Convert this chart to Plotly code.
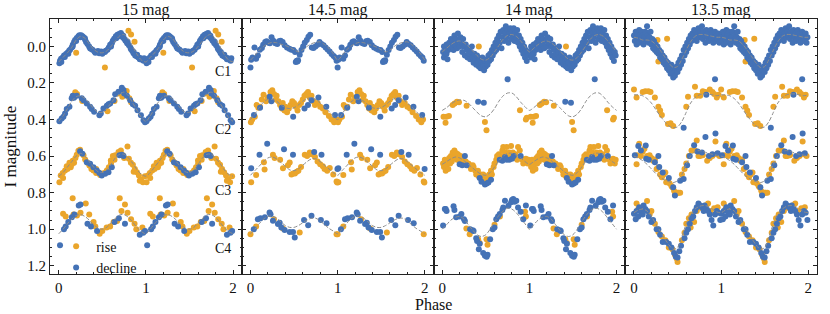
import plotly.graph_objects as go
from plotly.subplots import make_subplots

# ---------------- data ----------------
panel_titles = ["15 mag", "14.5 mag", "14 mag", "13.5 mag"]
curve_labels = ["C1", "C2", "C3", "C4"]
curve_label_mag = [0.135, 0.455, 0.787, 1.104]
curve_label_phase = 1.88
x_ticks = [0, 1, 2]
y_ticks = [0.0, 0.2, 0.4, 0.6, 0.8, 1.0, 1.2]
y_tick_text = ["0.0", "0.2", "0.4", "0.6", "0.8", "1.0", "1.2"]

model_phase = [0.0, 0.05, 0.1, 0.15, 0.2, 0.25, 0.3, 0.35, 0.4, 0.45, 0.5,
               0.55, 0.6, 0.65, 0.7, 0.75, 0.8, 0.85, 0.9, 0.95, 1.0]

# ---- 15 mag ----
m15_c1_rise = [(0.20, 0.034), (0.53, 0.116), (0.80, -0.086), (0.83, -0.065), (0.87, -0.025)]
m15_c1_decline = [(0.008, 0.092), (0.015, 0.079), (0.027, 0.068), (0.046, 0.061), (0.061, 0.050),
                  (0.084, 0.042), (0.100, 0.035), (0.119, 0.024), (0.130, 0.018), (0.149, 0.006),
                  (0.161, -0.009), (0.176, -0.024), (0.188, -0.035), (0.207, -0.046), (0.226, -0.055),
                  (0.238, -0.061), (0.257, -0.061), (0.272, -0.055), (0.284, -0.050), (0.303, -0.037),
                  (0.314, -0.024), (0.330, -0.013), (0.349, 0.000), (0.368, 0.013), (0.387, 0.018),
                  (0.410, 0.028), (0.437, 0.031), (0.464, 0.037), (0.487, 0.028), (0.513, 0.031),
                  (0.540, 0.024), (0.559, 0.018), (0.575, 0.006), (0.590, -0.009), (0.609, -0.018),
                  (0.621, -0.031), (0.636, -0.042), (0.655, -0.055), (0.674, -0.064), (0.693, -0.068),
                  (0.713, -0.073), (0.724, -0.064), (0.736, -0.050), (0.751, -0.042), (0.766, -0.031),
                  (0.785, -0.018), (0.805, -0.006), (0.824, 0.009), (0.843, 0.024), (0.858, 0.037),
                  (0.877, 0.050), (0.897, 0.055), (0.916, 0.061), (0.935, 0.064), (0.958, 0.073),
                  (0.973, 0.079), (0.03, 0.085), (0.07, 0.058), (0.11, 0.040), (0.16, 0.000),
                  (0.20, -0.030), (0.25, -0.050), (0.30, -0.045), (0.36, 0.010), (0.42, 0.035),
                  (0.45, 0.025), (0.50, 0.040), (0.53, 0.030), (0.60, 0.000), (0.66, -0.045),
                  (0.70, -0.055), (0.74, -0.058), (0.79, -0.025), (0.83, 0.015), (0.86, 0.030),
                  (0.90, 0.045), (0.93, 0.070), (0.98, 0.065)]
m15_c1_model = [0.085, 0.06, 0.035, 0.005, -0.035, -0.055, -0.045, -0.015, 0.015, 0.032, 0.035,
                0.025, 0.0, -0.03, -0.058, -0.065, -0.04, 0.0, 0.045, 0.075, 0.085]

m15_c2_rise = [(0.19, 0.251), (0.21, 0.260), (0.27, 0.299), (0.53, 0.339), (0.56, 0.354),
               (0.64, 0.299), (0.68, 0.257), (0.73, 0.275), (0.78, 0.244), (0.81, 0.284), (0.83, 0.306)]
m15_c2_decline = [(0.008, 0.409), (0.034, 0.394), (0.054, 0.385), (0.073, 0.367), (0.092, 0.343),
                  (0.123, 0.330), (0.149, 0.284), (0.161, 0.270), (0.176, 0.281), (0.207, 0.270),
                  (0.264, 0.284), (0.284, 0.294), (0.322, 0.312), (0.360, 0.330), (0.379, 0.343),
                  (0.406, 0.358), (0.467, 0.376), (0.483, 0.367), (0.513, 0.339), (0.552, 0.325),
                  (0.571, 0.317), (0.590, 0.312), (0.628, 0.294), (0.648, 0.262), (0.686, 0.248),
                  (0.724, 0.226), (0.743, 0.239), (0.751, 0.257), (0.782, 0.270), (0.820, 0.294),
                  (0.851, 0.317), (0.877, 0.325), (0.904, 0.349), (0.943, 0.376), (0.973, 0.404),
                  (0.99, 0.415)]
m15_c2_model = [0.41, 0.38, 0.34, 0.30, 0.275, 0.27, 0.285, 0.31, 0.34, 0.36, 0.36,
                0.34, 0.31, 0.28, 0.26, 0.25, 0.27, 0.31, 0.35, 0.39, 0.41]

m15_c3_rise = [(0.008, 0.743), (0.023, 0.706), (0.046, 0.692), (0.073, 0.679), (0.092, 0.655),
               (0.123, 0.637), (0.138, 0.661), (0.161, 0.626), (0.176, 0.637), (0.192, 0.611),
               (0.207, 0.593), (0.226, 0.571), (0.245, 0.565), (0.284, 0.596), (0.303, 0.618),
               (0.330, 0.637), (0.352, 0.651), (0.375, 0.670), (0.398, 0.679), (0.429, 0.692),
               (0.475, 0.703), (0.521, 0.692), (0.552, 0.679), (0.575, 0.661), (0.598, 0.624),
               (0.621, 0.600), (0.648, 0.596), (0.686, 0.578), (0.713, 0.569), (0.736, 0.596),
               (0.751, 0.611), (0.789, 0.547), (0.805, 0.615), (0.828, 0.637), (0.851, 0.648),
               (0.874, 0.670), (0.897, 0.688), (0.920, 0.706), (0.943, 0.728), (0.966, 0.743),
               (0.989, 0.710), (0.86, 0.685), (0.93, 0.735), (0.10, 0.670), (0.15, 0.645),
               (0.43, 0.670), (0.46, 0.690), (0.60, 0.640), (0.64, 0.620), (0.05, 0.720)]
m15_c3_decline = [(0.245, 0.574), (0.272, 0.587), (0.322, 0.633), (0.360, 0.642), (0.398, 0.661),
                  (0.437, 0.679), (0.467, 0.692), (0.494, 0.706), (0.533, 0.697), (0.571, 0.688),
                  (0.609, 0.661), (0.697, 0.596), (0.724, 0.593), (0.743, 0.600)]
m15_c3_model = [0.71, 0.69, 0.66, 0.63, 0.60, 0.585, 0.60, 0.63, 0.66, 0.685, 0.69,
                0.675, 0.645, 0.61, 0.59, 0.59, 0.61, 0.64, 0.675, 0.70, 0.71]

m15_c4_rise = [(0.05, 0.915), (0.08, 0.930), (0.16, 0.830), (0.17, 0.920), (0.21, 0.925),
               (0.25, 0.910), (0.31, 0.860), (0.35, 0.920), (0.40, 0.960), (0.42, 0.985),
               (0.47, 1.025), (0.50, 1.010), (0.55, 0.990), (0.59, 0.985), (0.63, 0.960),
               (0.67, 0.955), (0.70, 0.830), (0.72, 0.900), (0.76, 0.865), (0.79, 0.910),
               (0.83, 0.945), (0.87, 0.970), (0.89, 1.000), (0.96, 0.990)]
m15_c4_decline = [(0.015, 1.088), (0.06, 1.000), (0.08, 0.985), (0.11, 0.960), (0.15, 0.935),
                  (0.18, 0.920), (0.23, 0.870), (0.25, 0.865), (0.33, 0.970), (0.37, 0.985),
                  (0.44, 1.010), (0.64, 0.960), (0.69, 0.940), (0.76, 0.970), (0.93, 1.030),
                  (0.97, 1.020), (0.99, 1.010)]
m15_c4_model = [1.025, 1.0, 0.97, 0.945, 0.925, 0.92, 0.93, 0.95, 0.975, 0.993, 1.0,
                0.99, 0.965, 0.94, 0.922, 0.92, 0.935, 0.962, 0.992, 1.013, 1.025]

# ---- 14.5 mag ----
m145_c1_rise = []
m145_c1_decline = [(0.000, 0.116), (0.008, 0.073), (0.023, 0.061), (0.046, 0.006), (0.065, 0.068),
                   (0.085, 0.050), (0.108, 0.018), (0.131, 0.009), (0.146, -0.009), (0.169, -0.024),
                   (0.185, -0.028), (0.208, -0.020), (0.223, -0.017), (0.242, -0.050), (0.262, -0.031),
                   (0.285, -0.018), (0.308, -0.013), (0.327, -0.028), (0.346, -0.031), (0.369, -0.024),
                   (0.392, -0.006), (0.419, 0.006), (0.446, 0.013), (0.469, 0.018), (0.492, 0.020),
                   (0.512, 0.031), (0.531, 0.079), (0.546, 0.075), (0.565, 0.046), (0.585, 0.020),
                   (0.604, 0.000), (0.623, -0.020), (0.646, -0.035), (0.665, -0.053), (0.685, -0.064),
                   (0.704, 0.006), (0.723, 0.009), (0.746, 0.000), (0.769, -0.009), (0.792, -0.024),
                   (0.815, -0.013), (0.838, -0.006), (0.862, 0.006), (0.885, 0.017), (0.908, 0.028),
                   (0.931, 0.042), (0.954, 0.053), (0.973, 0.061), (0.988, 0.079), (0.52, 0.085),
                   (0.54, 0.083)]
m145_c1_model = [0.075, 0.05, 0.02, 0.0, -0.015, -0.022, -0.02, -0.012, -0.005, 0.005, 0.018,
                 0.03, 0.02, 0.0, -0.015, -0.022, -0.025, -0.01, 0.01, 0.04, 0.075]

m145_c2_rise = [(0.005, 0.415), (0.02, 0.400), (0.05, 0.385), (0.07, 0.320), (0.09, 0.335),
                (0.11, 0.330), (0.13, 0.290), (0.15, 0.265), (0.18, 0.300), (0.20, 0.280),
                (0.23, 0.250), (0.25, 0.240), (0.27, 0.260), (0.29, 0.290), (0.30, 0.270),
                (0.32, 0.300), (0.34, 0.320), (0.36, 0.340), (0.37, 0.310), (0.39, 0.350),
                (0.40, 0.330), (0.42, 0.360), (0.44, 0.340), (0.46, 0.320), (0.48, 0.300),
                (0.50, 0.310), (0.52, 0.330), (0.54, 0.350), (0.56, 0.320), (0.58, 0.310),
                (0.60, 0.290), (0.62, 0.270), (0.64, 0.260), (0.66, 0.250), (0.68, 0.280),
                (0.70, 0.270), (0.72, 0.300), (0.74, 0.320), (0.77, 0.310), (0.80, 0.330),
                (0.83, 0.340), (0.86, 0.360), (0.90, 0.380), (0.93, 0.400), (0.96, 0.415),
                (0.98, 0.400)]
m145_c2_decline = [(0.04, 0.375), (0.11, 0.335), (0.22, 0.275), (0.24, 0.300), (0.36, 0.335),
                   (0.49, 0.385), (0.62, 0.340), (0.66, 0.320), (0.70, 0.295), (0.78, 0.280),
                   (0.87, 0.330), (0.97, 0.375)]
m145_c2_model = [0.40, 0.37, 0.335, 0.305, 0.29, 0.29, 0.30, 0.32, 0.335, 0.34, 0.335,
                 0.32, 0.30, 0.285, 0.28, 0.29, 0.31, 0.33, 0.355, 0.38, 0.40]

m145_c3_rise = [(0.008, 0.743), (0.065, 0.703), (0.154, 0.633), (0.162, 0.673), (0.258, 0.593),
                (0.277, 0.611), (0.34, 0.620), (0.373, 0.666), (0.43, 0.650), (0.45, 0.635),
                (0.47, 0.700), (0.49, 0.695), (0.51, 0.695), (0.53, 0.685), (0.55, 0.680),
                (0.58, 0.660), (0.623, 0.593), (0.65, 0.600), (0.68, 0.580), (0.70, 0.590),
                (0.74, 0.605), (0.77, 0.630), (0.80, 0.645), (0.83, 0.655), (0.85, 0.670),
                (0.88, 0.680), (0.91, 0.665), (0.95, 0.700), (0.988, 0.739), (0.995, 0.745)]
m145_c3_decline = [(0.008, 0.666), (0.104, 0.593), (0.192, 0.532), (0.385, 0.563), (0.488, 0.593),
                   (0.731, 0.578), (0.815, 0.593), (0.998, 0.670)]
m145_c3_model = [0.705, 0.68, 0.655, 0.63, 0.61, 0.605, 0.615, 0.635, 0.655, 0.675, 0.68,
                 0.67, 0.65, 0.63, 0.615, 0.615, 0.63, 0.65, 0.67, 0.69, 0.705]

m145_c4_rise = [(0.0, 1.028), (0.065, 0.985), (0.269, 0.945), (0.373, 0.996), (0.565, 1.018),
                (0.988, 1.028)]
m145_c4_decline = [(0.038, 1.000), (0.085, 0.945), (0.115, 0.940), (0.165, 0.935), (0.219, 0.908),
                   (0.23, 0.918), (0.258, 0.954), (0.315, 0.972), (0.335, 0.965), (0.354, 0.991),
                   (0.392, 1.004), (0.450, 1.015), (0.488, 1.015), (0.508, 1.046), (0.615, 0.949),
                   (0.662, 0.978), (0.700, 0.927), (0.808, 0.949), (0.873, 0.967)]
m145_c4_model = [1.025, 1.0, 0.97, 0.945, 0.93, 0.928, 0.94, 0.96, 0.98, 0.99, 0.99,
                 0.98, 0.965, 0.95, 0.94, 0.94, 0.955, 0.975, 0.995, 1.01, 1.025]

# ---- 14 mag ----
m14_c1_rise = [(0.42, 0.0)]
m14_c1_decline = [(0.01, 0.03), (0.02, 0.0), (0.02, 0.06), (0.03, 0.05), (0.04, 0.02), (0.05, -0.01),
                  (0.05, 0.04), (0.06, 0.07), (0.07, 0.02), (0.08, -0.02), (0.09, 0.01), (0.10, -0.04),
                  (0.11, 0.0), (0.12, -0.03), (0.13, 0.02), (0.14, -0.06), (0.15, -0.01), (0.16, -0.04),
                  (0.17, 0.01), (0.18, -0.07), (0.19, -0.03), (0.20, 0.0), (0.21, -0.05), (0.22, -0.02),
                  (0.23, 0.03), (0.24, -0.04), (0.25, 0.0), (0.26, 0.05), (0.27, -0.01), (0.28, 0.02),
                  (0.29, 0.06), (0.30, 0.01), (0.31, 0.04), (0.32, 0.07), (0.33, 0.03), (0.34, 0.0),
                  (0.35, 0.06), (0.36, 0.09), (0.37, 0.04), (0.38, 0.07), (0.39, 0.10), (0.40, 0.05),
                  (0.41, 0.08), (0.42, 0.11), (0.43, 0.07), (0.44, 0.12), (0.45, 0.09), (0.46, 0.06),
                  (0.47, 0.10), (0.48, 0.13), (0.49, 0.08), (0.50, 0.11), (0.51, 0.07), (0.52, 0.10),
                  (0.53, 0.05), (0.54, 0.08), (0.55, 0.04), (0.56, 0.07), (0.57, 0.02), (0.58, 0.05),
                  (0.59, 0.0), (0.60, 0.03), (0.61, -0.02), (0.62, 0.02), (0.63, -0.04), (0.64, 0.0),
                  (0.65, -0.06), (0.66, -0.02), (0.67, -0.08), (0.68, 0.01), (0.69, -0.05), (0.70, -0.09),
                  (0.71, -0.03), (0.72, -0.07), (0.73, -0.11), (0.74, -0.05), (0.75, -0.09), (0.76, -0.02),
                  (0.77, -0.07), (0.78, -0.10), (0.79, -0.04), (0.80, -0.08), (0.81, -0.06), (0.82, -0.10),
                  (0.83, -0.03), (0.84, -0.07), (0.85, -0.05), (0.86, -0.09), (0.87, -0.02), (0.88, -0.06),
                  (0.89, 0.0), (0.90, -0.04), (0.91, 0.02), (0.92, -0.02), (0.93, 0.04), (0.94, 0.0),
                  (0.95, 0.06), (0.96, 0.02), (0.97, 0.08), (0.98, 0.03), (0.99, 0.05), (0.75, 0.18)]
m14_c1_model = [0.03, 0.01, -0.01, -0.025, -0.03, -0.02, 0.0, 0.025, 0.05, 0.07, 0.075,
                0.06, 0.03, -0.005, -0.04, -0.06, -0.065, -0.055, -0.03, 0.0, 0.03]

m14_c2_rise = [(0.015, 0.385), (0.038, 0.417), (0.05, 0.385), (0.077, 0.380), (0.12, 0.320),
               (0.142, 0.312), (0.169, 0.303), (0.192, 0.306), (0.28, 0.325), (0.49, 0.413),
               (0.508, 0.459), (0.892, 0.349), (0.96, 0.400), (0.97, 0.390)]
m14_c2_decline = [(0.412, 0.303), (0.477, 0.308)]
m14_c2_model = [0.35, 0.335, 0.315, 0.30, 0.293, 0.295, 0.31, 0.335, 0.36, 0.38, 0.385,
                0.37, 0.34, 0.30, 0.27, 0.255, 0.255, 0.275, 0.305, 0.33, 0.35]

m14_c3_rise = [(0.01, 0.64), (0.02, 0.66), (0.03, 0.62), (0.04, 0.68), (0.05, 0.65), (0.06, 0.63),
               (0.07, 0.67), (0.08, 0.61), (0.09, 0.64), (0.10, 0.60), (0.11, 0.63), (0.12, 0.58),
               (0.13, 0.61), (0.14, 0.57), (0.15, 0.60), (0.16, 0.585), (0.17, 0.62), (0.18, 0.59),
               (0.19, 0.61), (0.21, 0.60), (0.22, 0.63), (0.24, 0.62), (0.25, 0.64), (0.27, 0.63),
               (0.29, 0.65), (0.30, 0.64), (0.32, 0.65), (0.33, 0.67), (0.35, 0.65), (0.36, 0.66),
               (0.38, 0.68), (0.39, 0.70), (0.41, 0.68), (0.42, 0.71), (0.44, 0.70), (0.46, 0.72),
               (0.47, 0.70), (0.50, 0.73), (0.52, 0.71), (0.54, 0.70), (0.56, 0.68), (0.57, 0.70),
               (0.59, 0.66), (0.60, 0.64), (0.62, 0.62), (0.63, 0.60), (0.65, 0.59), (0.67, 0.60),
               (0.69, 0.57), (0.70, 0.55), (0.72, 0.58), (0.74, 0.55), (0.75, 0.60), (0.77, 0.58),
               (0.79, 0.545), (0.80, 0.60), (0.81, 0.58), (0.83, 0.61), (0.84, 0.59), (0.86, 0.62),
               (0.87, 0.55), (0.89, 0.57), (0.90, 0.61), (0.92, 0.62), (0.93, 0.64), (0.95, 0.63),
               (0.96, 0.615), (0.98, 0.64), (0.99, 0.62)]
m14_c3_decline = [(0.20, 0.645), (0.23, 0.650), (0.26, 0.600), (0.28, 0.650), (0.43, 0.720),
                  (0.45, 0.740), (0.49, 0.755), (0.51, 0.750), (0.53, 0.745), (0.56, 0.730),
                  (0.66, 0.620), (0.69, 0.625), (0.72, 0.605), (0.74, 0.620), (0.77, 0.620),
                  (0.80, 0.615), (0.82, 0.600), (0.90, 0.600)]
m14_c3_model = [0.645, 0.63, 0.615, 0.605, 0.61, 0.625, 0.645, 0.665, 0.685, 0.70, 0.705,
                0.69, 0.66, 0.625, 0.60, 0.585, 0.585, 0.595, 0.61, 0.63, 0.645]

m14_c4_rise = [(0.277, 0.996), (0.315, 1.028), (0.412, 1.055), (0.43, 1.075), (0.508, 1.055),
               (0.52, 1.085), (0.60, 0.975), (0.662, 0.930), (0.95, 0.905), (0.96, 0.930)]
m14_c4_decline = [(0.01, 0.980), (0.03, 0.890), (0.04, 0.890), (0.05, 0.900), (0.13, 0.875),
                  (0.14, 0.895), (0.16, 0.935), (0.20, 0.930), (0.22, 0.917), (0.25, 0.945),
                  (0.26, 0.955), (0.32, 1.000), (0.35, 1.005), (0.36, 1.010), (0.39, 1.050),
                  (0.40, 1.065), (0.42, 1.110), (0.43, 1.080), (0.47, 1.130), (0.49, 1.145),
                  (0.51, 1.150), (0.52, 1.140), (0.55, 1.055), (0.58, 1.000), (0.60, 0.990),
                  (0.62, 0.945), (0.64, 0.930), (0.66, 0.917), (0.69, 0.895), (0.70, 0.881),
                  (0.72, 0.844), (0.76, 0.872), (0.79, 0.853), (0.80, 0.840), (0.815, 0.835),
                  (0.83, 0.850), (0.85, 0.844), (0.87, 0.881), (0.90, 0.905), (0.93, 0.945),
                  (0.96, 0.870)]
m14_c4_model = [1.0, 0.975, 0.95, 0.935, 0.93, 0.945, 0.975, 1.005, 1.03, 1.04, 1.03,
                1.0, 0.96, 0.925, 0.90, 0.885, 0.89, 0.91, 0.94, 0.97, 1.0]

# ---- 13.5 mag ----
m135_c1_rise = [(0.28, 0.082), (0.27, -0.035), (0.38, -0.042), (0.61, 0.0), (0.92, -0.040)]
m135_c1_decline = [(0.00, -0.06), (0.01, -0.03), (0.02, -0.08), (0.03, -0.05), (0.03, -0.01), (0.04, -0.07),
                   (0.05, -0.04), (0.06, -0.09), (0.06, -0.02), (0.07, -0.06), (0.08, -0.04), (0.09, -0.08),
                   (0.10, -0.03), (0.10, -0.06), (0.11, -0.01), (0.12, -0.05), (0.13, -0.08), (0.14, -0.03),
                   (0.15, -0.11), (0.16, -0.06), (0.17, -0.02), (0.18, -0.05), (0.19, -0.08), (0.20, -0.01),
                   (0.21, -0.04), (0.22, 0.01), (0.23, -0.03), (0.24, 0.02), (0.25, -0.01), (0.26, 0.03),
                   (0.27, 0.0), (0.28, 0.04), (0.29, 0.02), (0.30, 0.06), (0.31, 0.03), (0.32, 0.07),
                   (0.33, 0.05), (0.34, 0.09), (0.35, 0.06), (0.36, 0.10), (0.37, 0.08), (0.38, 0.12),
                   (0.39, 0.09), (0.40, 0.13), (0.41, 0.11), (0.42, 0.15), (0.43, 0.10), (0.44, 0.14),
                   (0.45, 0.17), (0.46, 0.12), (0.47, 0.16), (0.48, 0.13), (0.49, 0.11), (0.50, 0.14),
                   (0.51, 0.09), (0.52, 0.12), (0.53, 0.07), (0.54, 0.10), (0.55, 0.05), (0.56, 0.08),
                   (0.57, 0.02), (0.58, 0.05), (0.59, 0.0), (0.60, 0.03), (0.61, -0.02), (0.62, 0.01),
                   (0.63, -0.04), (0.64, -0.01), (0.65, -0.06), (0.66, -0.03), (0.67, -0.07), (0.68, -0.04),
                   (0.69, -0.09), (0.70, -0.05), (0.71, -0.08), (0.72, -0.03), (0.73, -0.07), (0.74, -0.10),
                   (0.75, -0.05), (0.76, -0.08), (0.77, -0.06), (0.78, -0.11), (0.79, -0.04), (0.80, -0.08),
                   (0.81, -0.06), (0.82, -0.02), (0.83, -0.09), (0.84, -0.05), (0.85, -0.07), (0.86, -0.03),
                   (0.87, -0.06), (0.88, -0.09), (0.89, -0.04), (0.90, -0.07), (0.91, -0.02), (0.92, -0.05),
                   (0.93, -0.08), (0.94, -0.03), (0.95, -0.06), (0.96, -0.04), (0.97, -0.07), (0.98, -0.02),
                   (0.99, -0.05)]
m135_c1_model = [-0.05, -0.045, -0.035, -0.035, -0.03, -0.01, 0.02, 0.055, 0.09, 0.115, 0.11,
                 0.07, 0.02, -0.025, -0.055, -0.065, -0.065, -0.06, -0.055, -0.05, -0.05]

m135_c2_rise = [(0.0, 0.235), (0.03, 0.280), (0.10, 0.250), (0.13, 0.245), (0.165, 0.245),
                (0.19, 0.250), (0.24, 0.280), (0.28, 0.330), (0.30, 0.350), (0.32, 0.375),
                (0.39, 0.425), (0.42, 0.420), (0.45, 0.435), (0.60, 0.330), (0.62, 0.275),
                (0.70, 0.220), (0.72, 0.270), (0.76, 0.270), (0.79, 0.245), (0.82, 0.250),
                (0.87, 0.235), (0.90, 0.250), (0.92, 0.260), (0.95, 0.280), (0.97, 0.265)]
m135_c2_decline = [(0.57, 0.445), (0.83, 0.265), (0.93, 0.180)]
m135_c2_model = [0.265, 0.265, 0.27, 0.285, 0.31, 0.345, 0.38, 0.41, 0.435, 0.445, 0.44,
                 0.41, 0.36, 0.31, 0.28, 0.265, 0.26, 0.26, 0.265, 0.27, 0.265]

m135_c3_rise = [(0.03, 0.645), (0.035, 0.596), (0.06, 0.532), (0.08, 0.600), (0.10, 0.575),
                (0.12, 0.560), (0.15, 0.600), (0.18, 0.595), (0.20, 0.610), (0.22, 0.625),
                (0.24, 0.618), (0.26, 0.670), (0.28, 0.663), (0.30, 0.700), (0.32, 0.716),
                (0.34, 0.700), (0.36, 0.690), (0.37, 0.743), (0.39, 0.736), (0.41, 0.750),
                (0.43, 0.764), (0.44, 0.770), (0.46, 0.790), (0.47, 0.810), (0.50, 0.800),
                (0.51, 0.800), (0.53, 0.800), (0.55, 0.700), (0.58, 0.670), (0.60, 0.640),
                (0.63, 0.600), (0.66, 0.570), (0.70, 0.570), (0.72, 0.515), (0.74, 0.600),
                (0.76, 0.600), (0.79, 0.595), (0.84, 0.625), (0.87, 0.610), (0.90, 0.600),
                (0.935, 0.520), (0.95, 0.590), (0.98, 0.600)]
m135_c3_decline = [(0.01, 0.595), (0.05, 0.545), (0.08, 0.570), (0.135, 0.542), (0.14, 0.615),
                   (0.17, 0.620), (0.24, 0.633), (0.28, 0.600), (0.29, 0.660), (0.33, 0.690),
                   (0.40, 0.720), (0.45, 0.770), (0.47, 0.815), (0.53, 0.735), (0.57, 0.725),
                   (0.61, 0.650), (0.64, 0.600), (0.69, 0.540), (0.73, 0.575), (0.78, 0.580),
                   (0.82, 0.495), (0.86, 0.600), (0.90, 0.590), (0.935, 0.477), (0.96, 0.585)]
m135_c3_model = [0.60, 0.61, 0.625, 0.645, 0.67, 0.695, 0.715, 0.73, 0.74, 0.745, 0.735,
                 0.70, 0.645, 0.60, 0.575, 0.57, 0.575, 0.585, 0.59, 0.595, 0.60]

m135_c4_rise = [(0.03, 0.860), (0.05, 0.890), (0.09, 0.900), (0.15, 0.845), (0.18, 0.920),
                (0.20, 0.900), (0.24, 0.970), (0.27, 1.000), (0.28, 1.015), (0.32, 1.040),
                (0.36, 1.060), (0.40, 1.100), (0.44, 1.110), (0.47, 1.140), (0.49, 1.160),
                (0.50, 1.180), (0.55, 1.060), (0.58, 1.020), (0.60, 0.970), (0.63, 0.940),
                (0.65, 0.990), (0.66, 0.920), (0.69, 0.960), (0.72, 0.900), (0.75, 0.880),
                (0.78, 0.885), (0.82, 0.870), (0.85, 0.860), (0.88, 0.900), (0.92, 0.885),
                (0.96, 0.880)]
m135_c4_decline = [(0.00, 0.915), (0.02, 0.945), (0.03, 0.900), (0.05, 0.930), (0.06, 0.880),
                   (0.08, 0.905), (0.10, 0.920), (0.11, 0.870), (0.13, 0.890), (0.15, 0.900),
                   (0.17, 0.930), (0.20, 0.960), (0.22, 0.950), (0.26, 1.000), (0.28, 1.000),
                   (0.30, 1.030), (0.33, 1.070), (0.37, 1.070), (0.40, 1.080), (0.43, 1.100),
                   (0.46, 1.130), (0.48, 1.150), (0.50, 1.155), (0.52, 1.120), (0.54, 1.090),
                   (0.58, 1.050), (0.60, 1.020), (0.62, 1.000), (0.64, 0.970), (0.66, 0.940),
                   (0.68, 0.930), (0.70, 0.900), (0.72, 0.880), (0.74, 0.860), (0.76, 0.870),
                   (0.78, 0.880), (0.80, 0.900), (0.81, 0.870), (0.83, 0.890), (0.85, 0.900),
                   (0.87, 0.920), (0.89, 0.950), (0.91, 0.980), (0.93, 0.920), (0.95, 0.900),
                   (0.97, 0.910), (0.99, 0.950)]
m135_c4_model = [0.91, 0.895, 0.89, 0.90, 0.93, 0.97, 1.01, 1.05, 1.085, 1.11, 1.10,
                 1.04, 0.97, 0.92, 0.89, 0.875, 0.87, 0.875, 0.89, 0.905, 0.91]

# tables built from the named lists above
panels = [
    [(m15_c1_rise, m15_c1_decline, m15_c1_model), (m15_c2_rise, m15_c2_decline, m15_c2_model),
     (m15_c3_rise, m15_c3_decline, m15_c3_model), (m15_c4_rise, m15_c4_decline, m15_c4_model)],
    [(m145_c1_rise, m145_c1_decline, m145_c1_model), (m145_c2_rise, m145_c2_decline, m145_c2_model),
     (m145_c3_rise, m145_c3_decline, m145_c3_model), (m145_c4_rise, m145_c4_decline, m145_c4_model)],
    [(m14_c1_rise, m14_c1_decline, m14_c1_model), (m14_c2_rise, m14_c2_decline, m14_c2_model),
     (m14_c3_rise, m14_c3_decline, m14_c3_model), (m14_c4_rise, m14_c4_decline, m14_c4_model)],
    [(m135_c1_rise, m135_c1_decline, m135_c1_model), (m135_c2_rise, m135_c2_decline, m135_c2_model),
     (m135_c3_rise, m135_c3_decline, m135_c3_model), (m135_c4_rise, m135_c4_decline, m135_c4_model)],
]

# ---------------- style ----------------
FONT = "Liberation Serif"
RISE_COLOR = "#EAA52B"
DECLINE_COLOR = "#4472B6"
MODEL_COLOR = "#8c8c8c"
AXIS_COLOR = "#222222"
MS = 6


def two_cycles(pairs):
    ph = [p for p, _ in pairs]
    mg = [m for _, m in pairs]
    return ph + [p + 1 for p in ph], mg + mg


fig = make_subplots(rows=1, cols=4, horizontal_spacing=0.0)

legend_done = {"rise": False, "decline": False}
for col, curves in enumerate(panels, start=1):
    for rise, _, _ in curves:
        if not rise:
            continue
        x, y = two_cycles(rise)
        fig.add_trace(go.Scatter(x=x, y=y, mode="markers", name="rise",
                                 marker=dict(color=RISE_COLOR, size=MS),
                                 showlegend=not legend_done["rise"]), row=1, col=col)
        legend_done["rise"] = True
    for _, dec, _ in curves:
        if not dec:
            continue
        x, y = two_cycles(dec)
        fig.add_trace(go.Scatter(x=x, y=y, mode="markers", name="decline",
                                 marker=dict(color=DECLINE_COLOR, size=MS),
                                 showlegend=not legend_done["decline"]), row=1, col=col)
        legend_done["decline"] = True
    for _, _, model in curves:
        mx = model_phase + [p + 1 for p in model_phase[1:]]
        my = model + model[1:]
        fig.add_trace(go.Scatter(x=mx, y=my, mode="lines", showlegend=False,
                                 line=dict(color=MODEL_COLOR, width=1, dash="4px,2px",
                                           shape="spline", smoothing=0.8),
                                 hoverinfo="skip"), row=1, col=col)

TICK_FONT = dict(family=FONT, size=15, color="#111")
for col in range(1, 5):
    fig.update_xaxes(row=1, col=col, range=[-0.1, 2.1], tickvals=x_ticks,
                     ticktext=[str(t) for t in x_ticks],
                     ticks="inside", ticklen=4, tickwidth=1, tickcolor=AXIS_COLOR,
                     minor=dict(dtick=0.2, tick0=0, ticks="inside", ticklen=2,
                                tickwidth=1, tickcolor=AXIS_COLOR),
                     showline=True, linecolor=AXIS_COLOR, linewidth=1, mirror="allticks",
                     showgrid=False, zeroline=False, tickfont=TICK_FONT)
    fig.update_yaxes(row=1, col=col, range=[1.245, -0.15], tickvals=y_ticks,
                     ticktext=y_tick_text, showticklabels=(col == 1),
                     ticks="inside", ticklen=4, tickwidth=1, tickcolor=AXIS_COLOR,
                     minor=dict(dtick=0.05, tick0=0, ticks="inside", ticklen=2,
                                tickwidth=1, tickcolor=AXIS_COLOR),
                     showline=True, linecolor=AXIS_COLOR, linewidth=1, mirror="allticks",
                     showgrid=False, zeroline=False, tickfont=TICK_FONT)

annotations = []
for i, title in enumerate(panel_titles):
    annotations.append(dict(text=title, x=(i + 0.5) / 4, y=1, xref="paper", yref="paper",
                            xanchor="center", yanchor="bottom", yshift=-2, showarrow=False,
                            font=dict(family=FONT, size=16, color="#111")))
for lab, mg in zip(curve_labels, curve_label_mag):
    annotations.append(dict(text=lab, x=curve_label_phase, y=mg, xref="x", yref="y",
                            xanchor="center", yanchor="middle", showarrow=False,
                            font=dict(family=FONT, size=14, color="#111")))
annotations.append(dict(text="Phase", x=0.5, y=0, xref="paper", yref="paper",
                        xanchor="center", yanchor="middle", yshift=-30, showarrow=False,
                        font=dict(family=FONT, size=16, color="#111")))
annotations.append(dict(text="I magnitude", x=0, y=0.5, xref="paper", yref="paper",
                        xanchor="center", yanchor="middle", xshift=-40, textangle=-90,
                        showarrow=False, font=dict(family=FONT, size=17, color="#111")))

fig.update_layout(
    width=830, height=314,
    margin=dict(l=50, r=13, t=19, b=40),
    paper_bgcolor="white", plot_bgcolor="white",
    annotations=annotations,
    showlegend=True,
    legend=dict(x=0.008, y=0.17, xanchor="left", yanchor="top",
                bgcolor="rgba(0,0,0,0)", borderwidth=0, tracegroupgap=0,
                font=dict(family=FONT, size=14, color="#111")),
)

fig.write_html("out.html", config={"displayModeBar": False},
               post_script="document.body.style.margin='0px';")
